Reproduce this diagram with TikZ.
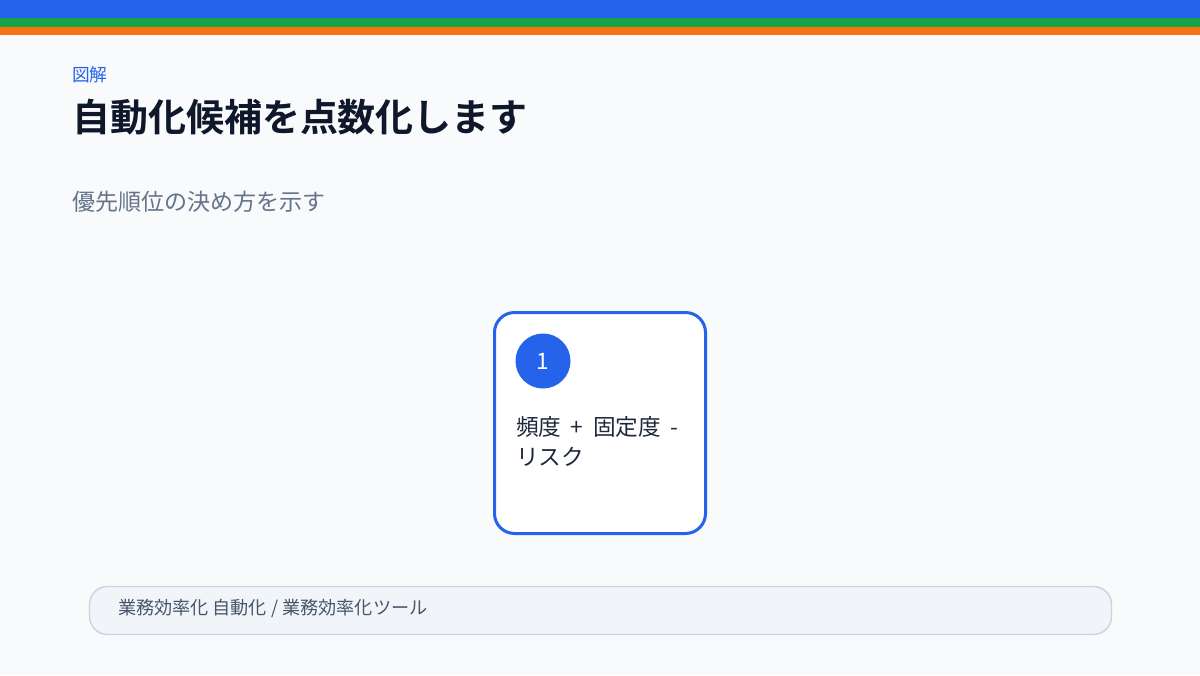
\documentclass[tikz,border=0pt]{standalone}
\usepackage{fontspec}
\setmainfont{Noto Sans CJK JP}
\newfontfamily\jpbold{Noto Sans CJK JP Bold}
\newfontfamily\jpwide[WordSpace=1.9]{Noto Sans CJK JP}
\definecolor{bg}{HTML}{F8FAFC}
\definecolor{barblue}{HTML}{2563EB}
\definecolor{bargreen}{HTML}{16A34A}
\definecolor{barorange}{HTML}{F97316}
\definecolor{titlec}{HTML}{0F172A}
\definecolor{subc}{HTML}{64748B}
\definecolor{textc}{HTML}{1E293B}
\definecolor{footfill}{HTML}{F1F5F9}
\definecolor{footline}{HTML}{CBD5E1}
\definecolor{foottext}{HTML}{475569}
\tikzset{
  txt/.style={inner sep=0pt, outer sep=0pt, anchor=west},
  cardbox/.style={draw=barblue, line width=2.25pt, fill=white, rounded corners=15pt},
  footbox/.style={draw=footline, line width=1.1pt, fill=footfill, rounded corners=13.5pt},
}
\begin{document}
\begin{tikzpicture}[x=0.75pt,y=-0.75pt]
\useasboundingbox (0,0) rectangle (1200,675);
\fill[bg] (0,0) rectangle (1200,675);
\fill[barblue] (0,0) rectangle (1200,18);
\fill[bargreen] (0,18) rectangle (1200,27);
\fill[barorange] (0,27) rectangle (1200,35);
\node[txt, text=barblue, font=\fontsize{13.3pt}{16pt}\selectfont] (lab) at (72,75) {図解};
\node[txt, text=titlec, font=\jpbold\fontsize{28.5pt}{34pt}\selectfont] (title) at (72,117) {自動化候補を点数化します};
\node[txt, text=subc, font=\fontsize{17.3pt}{20pt}\selectfont] (sub) at (72,202) {優先順位の決め方を示す};
\draw[cardbox] (494.5,312.5) rectangle (705.5,533.5);
\node[circle, fill=barblue, minimum size=41.25pt, inner sep=0pt, text=white, font=\fontsize{17pt}{20pt}\selectfont] (num) at (543,361) {1};
\node[txt, text=textc, font=\jpwide\fontsize{17pt}{22.5pt}\selectfont, align=left, anchor=north west] (desc) at (516,416) {頻度 + 固定度 -\\リスク};
\draw[footbox] (89.5,586.5) rectangle (1111.5,634.5);
\node[txt, text=foottext, font=\fontsize{13.6pt}{16pt}\selectfont] (foot) at (118,608) {業務効率化 自動化 / 業務効率化ツール};
\end{tikzpicture}
\end{document}
